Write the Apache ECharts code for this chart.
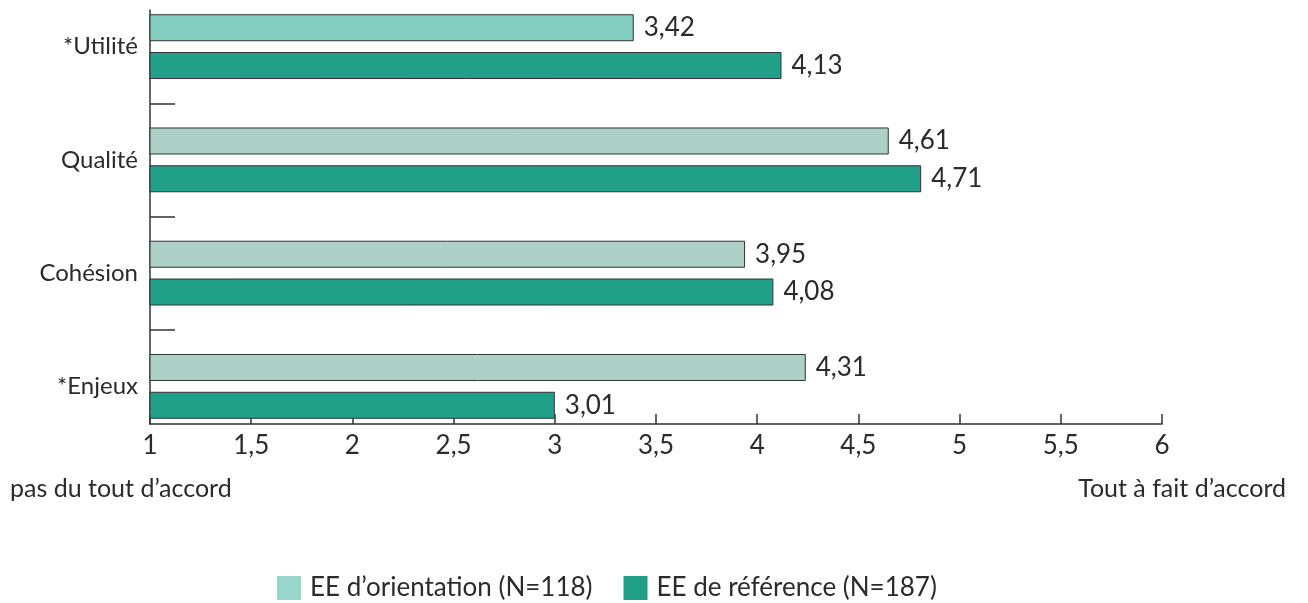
<!DOCTYPE html>
<html>
<head>
<meta charset="utf-8">
<script src="https://cdn.jsdelivr.net/npm/echarts@6/dist/echarts.min.js"></script>
<style>
html,body{margin:0;padding:0;background:#fff;}
#c{width:1308px;height:603px;}
</style>
</head>
<body>
<div id="c"></div>
<script>
// ---- data ----
const categories = ['*Utilité', 'Qualité', 'Cohésion', '*Enjeux'];
const seriesNames = ['EE d\u2019orientation (N=118)', 'EE de référence (N=187)'];
// bar lengths as drawn in the picture
const orientation = [3.39, 4.65, 3.94, 4.24];
const reference = [4.12, 4.81, 4.08, 3.00];
// value labels as printed
const orientationLabels = ['3,42', '4,61', '3,95', '4,31'];
const referenceLabels = ['4,13', '4,71', '4,08', '3,01'];
const xMin = 1, xMax = 6, xStep = 0.5;
const leftNote = 'pas du tout d\u2019accord';
const rightNote = 'Tout à fait d\u2019accord';

// ---- styles ----
const FONT = 'Lato';
const TXT = '#2b2b2b';
const LINE = '#333';
const cOrientation = '#add1c7';
const cOrientationFirst = '#84cfc1';
const cOrientationLegend = '#98d6ca';
const cReference = '#21a089';

const chart = echarts.init(document.getElementById('c'), null, {renderer: 'canvas'});
const labelStyle = {show: true, position: 'right', distance: 10, fontSize: 26, color: TXT, fontFamily: FONT};

chart.setOption({
  animation: false,
  backgroundColor: '#fff',
  title: [
    {text: leftNote, left: 10, top: 476, textStyle: {fontSize: 25, fontWeight: 'normal', color: TXT, fontFamily: FONT}, padding: 0},
    {text: rightNote, right: 22, top: 476, textStyle: {fontSize: 25, fontWeight: 'normal', color: TXT, fontFamily: FONT}, padding: 0}
  ],
  legend: {
    left: 277, top: 575, padding: 0, itemWidth: 24, itemHeight: 24, itemGap: 31, icon: 'rect',
    textStyle: {fontSize: 26, color: TXT, fontFamily: FONT, padding: [0, 0, 0, 4]},
    data: [
      {name: seriesNames[0], itemStyle: {color: cOrientationLegend, borderWidth: 0}},
      {name: seriesNames[1], itemStyle: {color: cReference, borderWidth: 0}}
    ]
  },
  grid: [
    {left: 150, right: 146, top: -10, bottom: 160, outerBoundsMode: 'none', containLabel: false},
    {left: 150, right: 146, top: -10, bottom: 273.25, outerBoundsMode: 'none', containLabel: false},
    {left: 150, right: 146, top: 10, bottom: 179, outerBoundsMode: 'none', containLabel: false}
  ],
  xAxis: [
    {gridIndex: 0, type: 'value', min: xMin, max: xMax, show: false},
    {gridIndex: 1, type: 'value', min: xMin, max: xMax, show: false},
    {gridIndex: 2, type: 'value', min: xMin, max: xMax, interval: xStep,
     axisLine: {show: true, onZero: false, lineStyle: {color: LINE, width: 1.5}},
     axisTick: {show: true, inside: true, length: 10, lineStyle: {color: LINE, width: 1.5}},
     axisLabel: {fontSize: 26, color: TXT, fontFamily: FONT, margin: 9,
                 formatter: v => String(v).replace('.', ',')},
     splitLine: {show: false}}
  ],
  yAxis: [
    {gridIndex: 0, type: 'category', inverse: true, data: categories,
     axisLine: {show: false}, axisTick: {show: false},
     axisLabel: {fontSize: 24, color: TXT, fontFamily: FONT, margin: 12}},
    {gridIndex: 1, type: 'category', inverse: true, data: ['', '', ''],
     axisLine: {show: false}, axisLabel: {show: false},
     axisTick: {show: true, inside: true, length: 25, lineStyle: {color: LINE, width: 1.5}}},
    {gridIndex: 2, type: 'value', min: 0, max: 1,
     axisLine: {show: true, onZero: false, lineStyle: {color: LINE, width: 1.5}},
     axisTick: {show: false}, axisLabel: {show: false}, splitLine: {show: false}}
  ],
  series: [
    {
      name: seriesNames[0], type: 'bar', xAxisIndex: 0, yAxisIndex: 0,
      barWidth: 27, barGap: '40%',
      itemStyle: {color: cOrientation, borderColor: LINE, borderWidth: 1},
      label: Object.assign({}, labelStyle, {formatter: p => orientationLabels[p.dataIndex]}),
      data: orientation.map((v, i) => i === 0 ? {value: v, itemStyle: {color: cOrientationFirst}} : v)
    },
    {
      name: seriesNames[1], type: 'bar', xAxisIndex: 0, yAxisIndex: 0,
      barWidth: 27, barGap: '40%',
      itemStyle: {color: cReference, borderColor: LINE, borderWidth: 1},
      label: Object.assign({}, labelStyle, {formatter: p => referenceLabels[p.dataIndex]}),
      data: reference
    }
  ]
});
</script>
</body>
</html>
